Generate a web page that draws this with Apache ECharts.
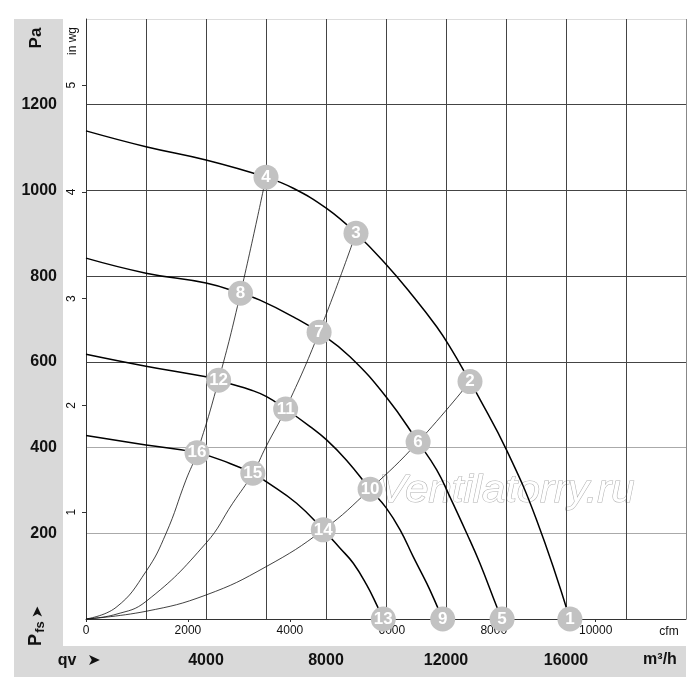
<!DOCTYPE html>
<html lang="ru">
<head>
    <meta charset="UTF-8">
    <title>Fan curves</title>
    <script src="https://cdn.jsdelivr.net/npm/echarts@6.0.0/dist/echarts.min.js"></script>
    <style>
        html, body { margin: 0; padding: 0; background: #fff; }
    </style>
</head>
<body>
    <div id="main" style="width: 700px;height:700px;"></div>

    <script>
        // fan curves: flow in m3/h, static pressure in Pa
        var fan1Q = [0, 2000, 4000, 6000, 6910, 8020, 9000, 10020, 10800, 11690, 12190, 12800, 13020, 14020, 15020, 16130];
        var fan1P = [1139, 1102, 1071, 1031, 1005, 958, 900, 826, 762, 682, 628, 554, 527, 394, 231, 0];

        var fan2Q = [0, 2000, 4000, 5150, 5800, 6910, 7770, 8800, 10020, 11070, 11690, 12130, 12690, 13130, 13690, 13870];
        var fan2P = [842, 807, 784, 760, 744, 705, 669, 612, 517, 413, 348, 285, 200, 130, 29, 0];

        var fan3Q = [0, 2000, 4000, 4420, 4800, 5470, 6020, 6655, 7470, 8020, 8690, 9470, 10000, 10470, 10910, 11360, 11710, 11890];
        var fan3P = [618, 590, 565, 557, 549, 535, 519, 490, 449, 418, 370, 303, 260, 208, 145, 83, 29, 0];

        var fan4Q = [0, 2000, 3700, 4800, 5560, 6020, 7020, 7910, 8470, 8910, 9360, 9690, 9910];
        var fan4P = [428, 406, 388, 363, 340, 320, 270, 208, 165, 130, 79, 33, 0];

        // system curves from the origin
        var sys1Q = [0, 1000, 2000, 2670, 3330, 3700, 4420, 5150, 6000];
        var sys1P = [0, 27, 111, 200, 324, 388, 557, 760, 1031];

        var sys2Q = [0, 1000, 2000, 4000, 4890, 5560, 6000, 6655, 7770, 9000];
        var sys2P = [0, 11, 41, 177, 270, 340, 402, 490, 669, 900];

        var sys3Q = [0, 2000, 4000, 6000, 7910, 9470, 11070, 12800];
        var sys3P = [0, 18, 56, 122, 208, 303, 413, 554];

        // numbered operating points
        var markerNo = [1, 2, 3, 4, 5, 6, 7, 8, 9, 10, 11, 12, 13, 14, 15, 16];
        var markerQ = [16130, 12800, 9000, 6000, 13870, 11070, 7770, 5150, 11890, 9470, 6655, 4420, 9910, 7910, 5560, 3700];
        var markerP = [0, 554, 900, 1031, 0, 413, 669, 760, 0, 303, 490, 557, 0, 208, 340, 388];

        var qvLabels = [4000, 8000, 12000, 16000];
        var PA_PER_INWG = 249.09;
        var M3H_PER_CFM = 1.699;
        var Q_MAX = 20000;
        var P_MAX = 1400;

        var FONT = '"Liberation Sans", Arial, sans-serif';

        function pairs(q, p) {
            return q.map(function (v, i) { return [v, p[i]]; });
        }

        function curveSeries(q, p, color, width, z) {
            return {
                type: 'line',
                xAxisIndex: 0,
                yAxisIndex: 0,
                data: pairs(q, p),
                smooth: 0.45,
                showSymbol: false,
                silent: true,
                lineStyle: { color: color, width: width },
                z: z
            };
        }

        function rotText(x, y, text, font) {
            return {
                type: 'text',
                x: x,
                y: y,
                rotation: Math.PI / 2,
                z: 5,
                style: {
                    text: text,
                    font: font,
                    fill: '#111',
                    textAlign: 'center',
                    textVerticalAlign: 'middle'
                }
            };
        }

        function flatText(x, y, text, font) {
            return {
                type: 'text',
                x: x,
                y: y,
                z: 5,
                style: {
                    text: text,
                    font: font,
                    fill: '#111',
                    textAlign: 'center',
                    textVerticalAlign: 'middle'
                }
            };
        }

        var xLineColors = [];
        for (var i = 0; i < 10; i++) xLineColors.push('#444');
        xLineColors.push('#888');

        var myChart = echarts.init(document.getElementById('main'));
        var option = {
            animation: false,
            backgroundColor: '#fff',
            grid: { left: 86, top: 19, right: 14, bottom: 81, containLabel: false },
            xAxis: [
                {
                    type: 'value',
                    position: 'bottom',
                    min: 0,
                    max: Q_MAX,
                    interval: 2000,
                    axisLine: { show: true, onZero: false, lineStyle: { color: '#333', width: 1 } },
                    axisTick: { show: false },
                    axisLabel: {
                        margin: 34,
                        fontFamily: FONT,
                        fontSize: 16,
                        fontWeight: 'bold',
                        color: '#111',
                        formatter: function (v) {
                            return qvLabels.indexOf(v) >= 0 ? String(v) : '';
                        }
                    },
                    splitLine: { show: true, lineStyle: { color: xLineColors, width: 1 } }
                },
                {
                    type: 'value',
                    position: 'bottom',
                    min: 0,
                    max: Q_MAX / M3H_PER_CFM,
                    interval: 2000,
                    axisLine: { show: false },
                    axisTick: { show: true, length: 3, lineStyle: { color: '#333' } },
                    axisLabel: {
                        margin: 6,
                        fontFamily: FONT,
                        fontSize: 12,
                        color: '#111',
                        showMaxLabel: false,
                        formatter: function (v) { return String(v); }
                    },
                    splitLine: { show: false }
                }
            ],
            yAxis: [
                {
                    type: 'value',
                    position: 'left',
                    min: 0,
                    max: P_MAX,
                    interval: 200,
                    axisLine: { show: false },
                    axisTick: { show: false },
                    axisLabel: {
                        margin: 29,
                        fontFamily: FONT,
                        fontSize: 16,
                        fontWeight: 'bold',
                        color: '#111',
                        showMinLabel: false,
                        showMaxLabel: false,
                        formatter: function (v) { return String(v); }
                    },
                    splitLine: {
                        show: true,
                        lineStyle: {
                            color: ['#333', '#aaa', '#aaa', '#444', '#444', '#444', '#444', '#ddd'],
                            width: 1
                        }
                    }
                },
                {
                    type: 'value',
                    position: 'left',
                    min: 0,
                    max: P_MAX / PA_PER_INWG,
                    interval: 1,
                    axisLine: { show: true, onZero: false, lineStyle: { color: '#333', width: 1 } },
                    axisTick: { show: true, length: 4, lineStyle: { color: '#333' } },
                    axisLabel: {
                        margin: 8,
                        rotate: 90,
                        fontFamily: FONT,
                        fontSize: 12,
                        color: '#111',
                        showMinLabel: false,
                        showMaxLabel: false
                    },
                    splitLine: { show: false }
                }
            ],
            graphic: [
                { type: 'rect', z: -1, shape: { x: 14, y: 19, width: 49, height: 627 }, style: { fill: '#d9d9d9' } },
                { type: 'rect', z: -1, shape: { x: 14, y: 646, width: 672, height: 31 }, style: { fill: '#d9d9d9' } },
                rotText(36, 38, 'Pa', 'bold 17px ' + FONT),
                rotText(73, 41, 'in wg', '12px ' + FONT),
                rotText(36, 640, 'P', 'bold 18px ' + FONT),
                rotText(40, 627, 'fs', 'bold 13px ' + FONT),
                rotText(38, 612, '➤', '15px "DejaVu Sans", sans-serif'),
                flatText(67, 661, 'qv', 'bold 16px ' + FONT),
                flatText(94, 661, '➤', '16px "DejaVu Sans", sans-serif'),
                flatText(660, 660, 'm³/h', 'bold 16px ' + FONT),
                flatText(669, 632, 'cfm', '12px ' + FONT),
                {
                    type: 'text',
                    x: 379,
                    y: 491,
                    z: -1,
                    scaleX: 1.1,
                    style: {
                        text: 'Ventilatorry.ru',
                        font: 'italic 38px ' + FONT,
                        fill: '#fff',
                        stroke: '#b0b0b0',
                        lineWidth: 1,
                        textAlign: 'left',
                        textVerticalAlign: 'middle'
                    }
                }
            ],
            series: [
                curveSeries(sys1Q, sys1P, '#111', 0.8, 2),
                curveSeries(sys2Q, sys2P, '#111', 0.8, 2),
                curveSeries(sys3Q, sys3P, '#111', 0.8, 2),
                curveSeries(fan1Q, fan1P, '#000', 1.5, 3),
                curveSeries(fan2Q, fan2P, '#000', 1.5, 3),
                curveSeries(fan3Q, fan3P, '#000', 1.5, 3),
                curveSeries(fan4Q, fan4P, '#000', 1.5, 3),
                {
                    type: 'scatter',
                    xAxisIndex: 0,
                    yAxisIndex: 0,
                    symbol: 'circle',
                    symbolSize: 25,
                    silent: true,
                    z: 5,
                    itemStyle: { color: '#c2c2c2', opacity: 1 },
                    label: {
                        show: true,
                        position: 'inside',
                        fontFamily: FONT,
                        fontSize: 17,
                        fontWeight: 'bold',
                        color: '#fff',
                        formatter: function (p) { return String(p.value[2]); }
                    },
                    data: markerNo.map(function (n, i) {
                        return [markerQ[i], markerP[i], n];
                    })
                }
            ]
        };

        myChart.setOption(option);
    </script>
</body>
</html>
